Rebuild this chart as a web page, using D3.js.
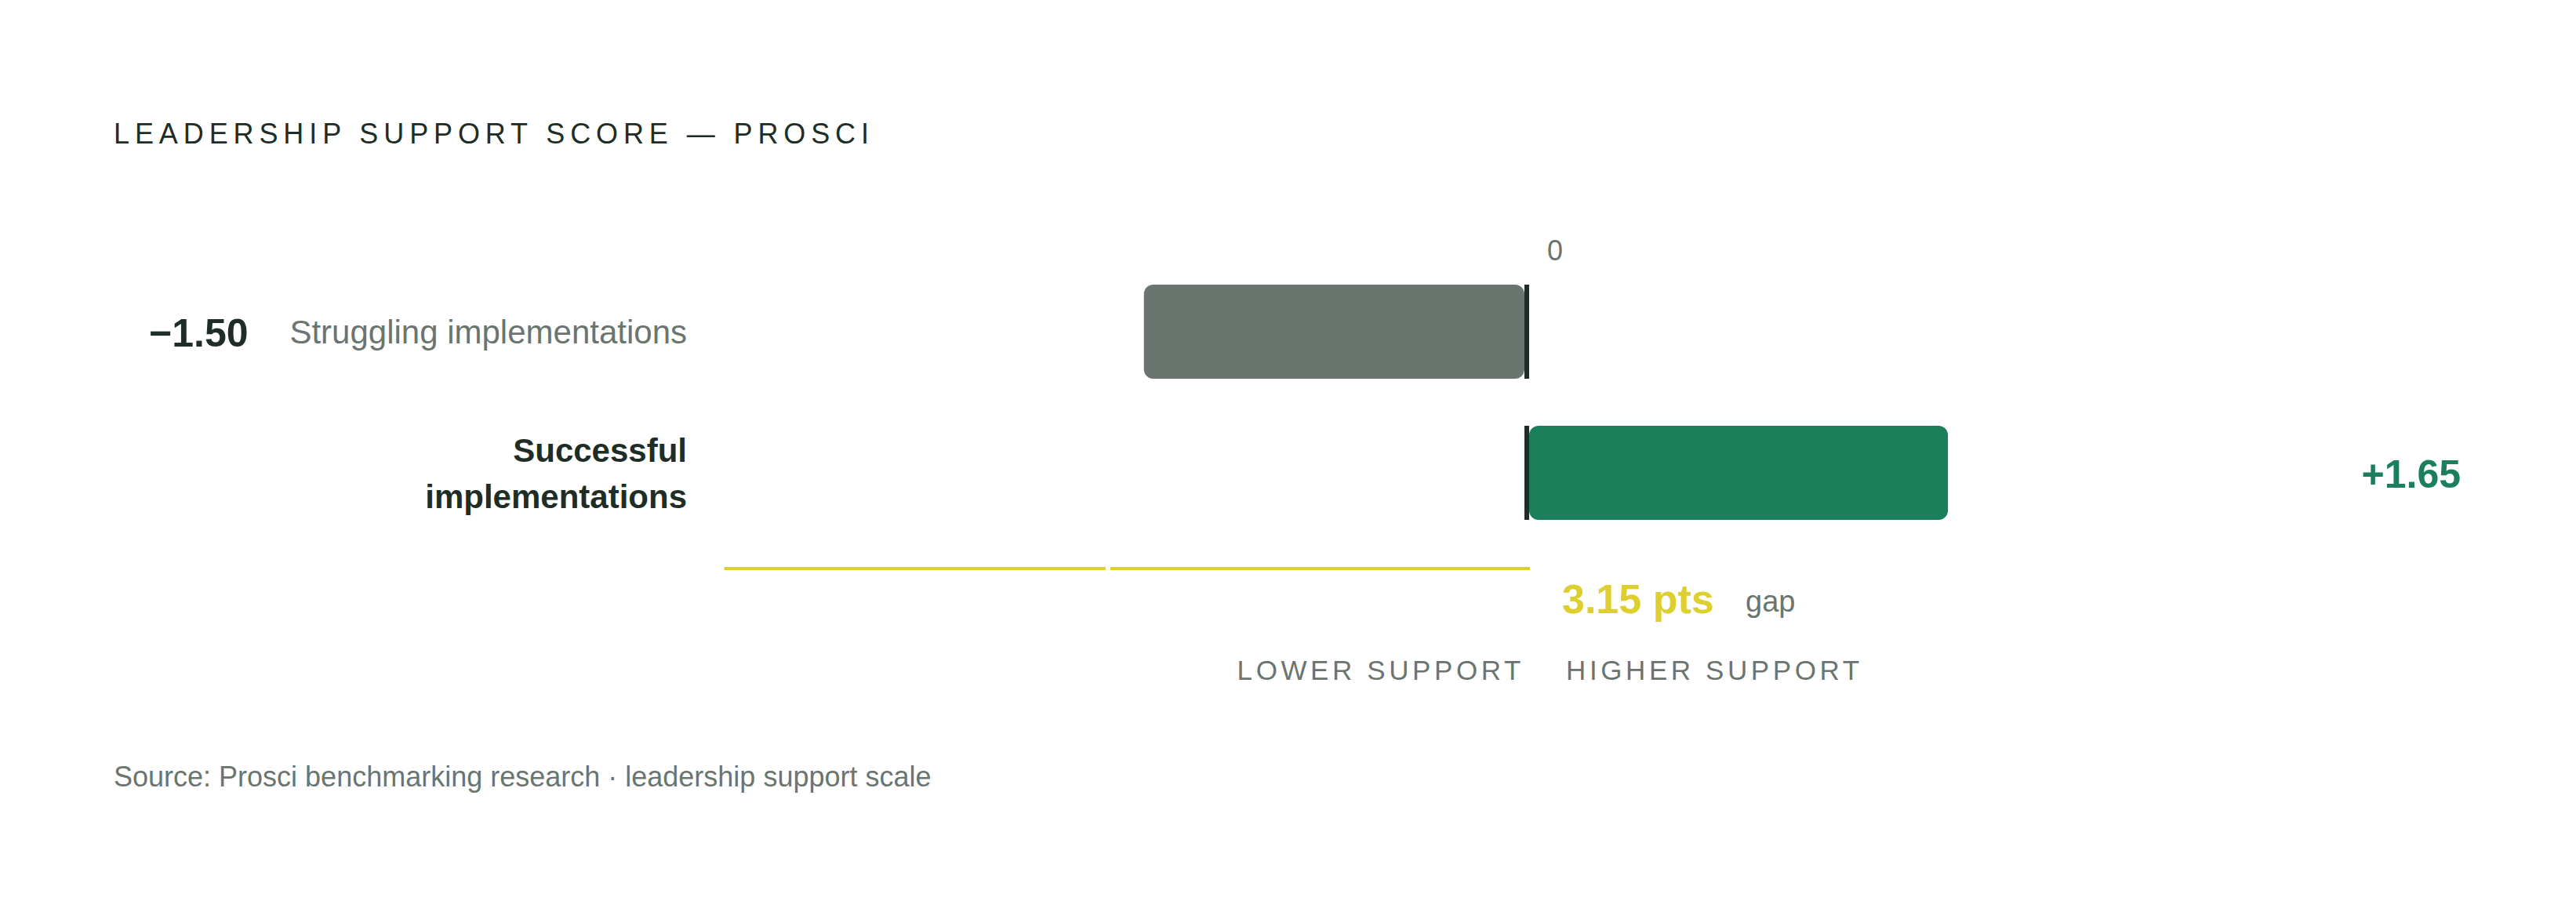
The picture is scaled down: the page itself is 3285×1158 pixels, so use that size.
<!DOCTYPE html>
<html>
<head>
<meta charset="utf-8">
<script src="https://cdn.jsdelivr.net/npm/d3@7"></script>
<style>
  html, body { margin: 0; padding: 0; background: #ffffff; }
  svg text { font-family: "Liberation Sans", Arial, Helvetica, sans-serif; }
</style>
</head>
<body>
<svg id="chart"></svg>
<script>
// chart values
const categories = ['Struggling implementations', 'Successful implementations'];
const categoryLines = [['Struggling implementations'], ['Successful', 'implementations']];
const scores = [-1.50, 1.65];
const scoreLabels = ['\u22121.50', '+1.65'];
const gapLabel = '3.15 pts';
const gapValue = 3.15;
const axisTicks = [0];
const directionLabels = ['LOWER SUPPORT', 'HIGHER SUPPORT'];
const title = 'LEADERSHIP SUPPORT SCORE \u2014 PROSCI';
const source = 'Source: Prosci benchmarking research \u00b7 leadership support scale';

const width = 3285, height = 1158;
const ink = '#1f2d27', muted = '#6b7570', green = '#1b7f5c', yellow = '#dccf2e';

const svg = d3.select('#chart')
    .attr('width', width)
    .attr('height', height);

const xScale = d3.scaleLinear()
    .domain([-3, 3])
    .range([970.5, 2923.5]);

const yScale = d3.scaleBand()
    .domain(categories)
    .range([363, 663])
    .paddingInner(1 / 3)
    .paddingOuter(0);

const x0 = xScale(0);
const rows = categories.map((c, i) => ({cat: c, lines: categoryLines[i], value: scores[i], label: scoreLabels[i]}));
const mid = d => yScale(d.cat) + yScale.bandwidth() / 2;

svg.append('text')
    .attr('x', 145)
    .attr('y', 183)
    .attr('fill', ink)
    .style('font-size', '36px')
    .style('letter-spacing', '6.9px')
    .text(title);

// zero tick label
svg.selectAll('.tick-label')
    .data(axisTicks)
  .join('text')
    .attr('class', 'tick-label')
    .attr('x', d => xScale(d) + 26)
    .attr('y', 332)
    .attr('fill', muted)
    .style('font-size', '36px')
    .text(d => d);

// bars
svg.selectAll('.bar')
    .data(rows)
  .join('rect')
    .attr('class', 'bar')
    .attr('x', d => d.value < 0 ? xScale(d.value) : x0 + 3)
    .attr('width', d => d.value < 0 ? x0 - 3 - xScale(d.value) : xScale(d.value) - x0 - 3)
    .attr('y', d => yScale(d.cat))
    .attr('height', yScale.bandwidth())
    .attr('rx', 12)
    .attr('fill', d => d.value < 0 ? muted : green);

// zero line per row
svg.selectAll('.zero')
    .data(rows)
  .join('rect')
    .attr('class', 'zero')
    .attr('x', x0 - 3)
    .attr('width', 6)
    .attr('y', d => yScale(d.cat))
    .attr('height', yScale.bandwidth())
    .attr('fill', ink);

// category labels
svg.selectAll('.cat-label')
    .data(rows)
  .join('text')
    .attr('class', 'cat-label')
    .attr('x', 876)
    .attr('y', d => mid(d) - (d.lines.length - 1) * 29.5)
    .attr('dy', '0.36em')
    .attr('text-anchor', 'end')
    .attr('fill', d => d.value < 0 ? muted : ink)
    .style('font-size', '42px')
    .style('font-weight', d => d.value < 0 ? 'normal' : 'bold')
    .selectAll('tspan')
    .data(d => d.lines)
  .join('tspan')
    .attr('x', 876)
    .attr('dy', (d, i) => i === 0 ? null : 59)
    .text(d => d);

// value labels
svg.selectAll('.val-label')
    .data(rows)
  .join('text')
    .attr('class', 'val-label')
    .attr('x', d => d.value < 0 ? 190 : 3138)
    .attr('y', d => mid(d))
    .attr('dy', '0.38em')
    .attr('text-anchor', d => d.value < 0 ? 'start' : 'end')
    .attr('fill', d => d.value < 0 ? ink : green)
    .style('font-size', '50px')
    .style('font-weight', 'bold')
    .text(d => d.label);

// gap bracket
const gapSegs = [[-gapValue, scores[1] * -1], [scores[1] * -1, 0]];
svg.selectAll('.gap-line')
    .data(gapSegs)
  .join('line')
    .attr('class', 'gap-line')
    .attr('x1', (d, i) => xScale(d[0]) + (i === 0 ? 2 : 6))
    .attr('x2', (d, i) => xScale(d[1]) + (i === 0 ? 0 : 4))
    .attr('y1', 725)
    .attr('y2', 725)
    .attr('stroke', yellow)
    .attr('stroke-width', 4);

svg.append('text')
    .attr('x', x0 + 45)
    .attr('y', 782)
    .attr('fill', yellow)
    .style('font-size', '52px')
    .style('font-weight', 'bold')
    .text(gapLabel);

svg.append('text')
    .attr('x', 2226)
    .attr('y', 780)
    .attr('fill', muted)
    .style('font-size', '38px')
    .text('gap');

// direction labels
svg.append('text')
    .attr('x', x0 - 3)
    .attr('y', 867)
    .attr('text-anchor', 'end')
    .attr('fill', muted)
    .style('font-size', '35px')
    .style('letter-spacing', '4.6px')
    .text(directionLabels[0]);

svg.append('text')
    .attr('x', x0 + 50)
    .attr('y', 867)
    .attr('fill', muted)
    .style('font-size', '35px')
    .style('letter-spacing', '4.6px')
    .text(directionLabels[1]);

svg.append('text')
    .attr('x', 145)
    .attr('y', 1003)
    .attr('fill', muted)
    .style('font-size', '36px')
    .text(source);
</script>
</body>
</html>
